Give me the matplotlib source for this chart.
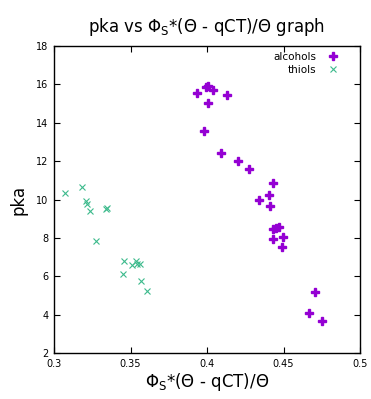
import matplotlib
matplotlib.use('Agg')
import matplotlib.pyplot as plt

# alcohols (x, pka)
alc_x = [0.3937, 0.3991, 0.4008, 0.4041, 0.4129, 0.4008, 0.3980, 0.4090, 0.4205,
         0.4276, 0.4431, 0.4405, 0.4342, 0.4414, 0.4433, 0.4451, 0.4473, 0.4499,
         0.4431, 0.4492, 0.4706, 0.4669, 0.4750]
alc_y = [15.54, 15.88, 15.93, 15.71, 15.45, 15.01, 13.59, 12.41, 12.02,
         11.59, 10.88, 10.25, 9.96, 9.65, 8.45, 8.50, 8.58, 8.06,
         7.96, 7.53, 5.20, 4.10, 3.69]

# thiols
thi_x = [0.3072, 0.3181, 0.3207, 0.3218, 0.3235, 0.3340, 0.3344, 0.3275,
         0.3458, 0.3449, 0.3512, 0.3534, 0.3544, 0.3562, 0.3567, 0.3610]
thi_y = [10.32, 10.64, 9.94, 9.77, 9.40, 9.49, 9.54, 7.85,
         6.81, 6.12, 6.59, 6.80, 6.64, 6.62, 5.77, 5.25]

plt.rcParams['mathtext.fontset'] = 'dejavusans'

fig = plt.figure(figsize=(3.71, 3.99), dpi=100)
ax = fig.add_axes([0.1456, 0.1153, 0.8248, 0.7694])

ax.plot(alc_x, alc_y, linestyle='none', marker='P', markersize=6,
        color='#9400d3', label='alcohols')
ax.plot(thi_x, thi_y, linestyle='none', marker='x', markersize=5,
        markeredgewidth=0.8, color='#3cba8c', label='thiols')

ax.set_xlim(0.3, 0.5)
ax.set_ylim(2, 18)
ax.set_xticks([0.3, 0.35, 0.4, 0.45, 0.5])
ax.set_xticklabels(['0.3', '0.35', '0.4', '0.45', '0.5'])
ax.set_yticks(range(2, 19, 2))
ax.tick_params(direction='in', top=True, right=True, labelsize=7, length=4,
               width=0.8, pad=4)
for s in ax.spines.values():
    s.set_linewidth(1.0)

ax.set_xlabel(r'$\Phi_{\mathrm{S}}$*(Θ - qCT)/Θ', fontsize=12, labelpad=2)
ax.set_ylabel('pka', fontsize=12, labelpad=6)
ax.set_title(r'pka vs $\Phi_{\mathrm{S}}$*(Θ - qCT)/Θ graph', fontsize=12, pad=10)

ax.legend(loc='upper right', bbox_to_anchor=(0.95, 0.995), frameon=False,
          markerfirst=False, fontsize=7.5, handletextpad=0.8, borderaxespad=0,
          labelspacing=0.3, handlelength=1.5)

fig.savefig('out.png', dpi=100)
